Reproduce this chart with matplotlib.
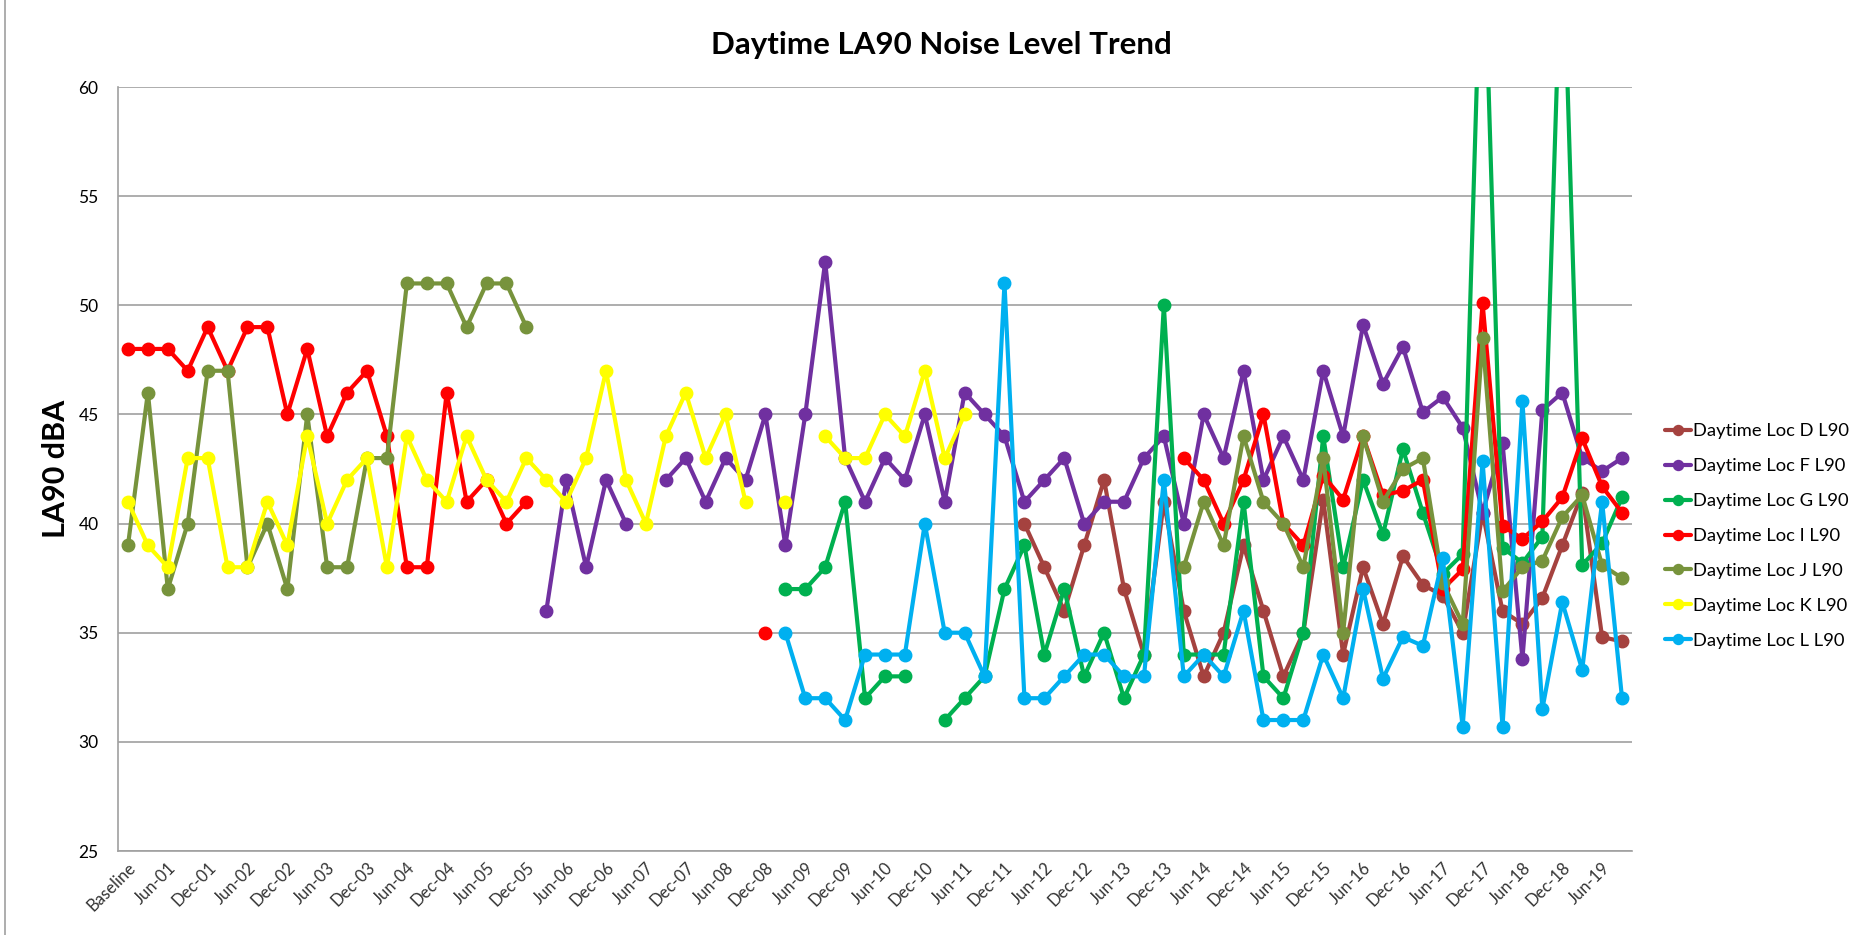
import numpy as np
import matplotlib
matplotlib.use("Agg")
import matplotlib.pyplot as plt
from matplotlib.lines import Line2D

plt.rcParams["font.family"] = ["Lato", "DejaVu Sans"]

nan = np.nan

# quarterly survey periods: Baseline, Mar-01 ... Sep-19
months = ["Mar", "Jun", "Sep", "Dec"]
categories = ["Baseline"] + [f"{m}-{y:02d}" for y in range(1, 20) for m in months][:75]

loc_d = [nan] * 45 + [40, 38, 36, 39, 42, 37, 34, 41, 36, 33, 35, 39, 36, 33, 35,
                      41.1, 34, 38, 35.4, 38.5, 37.2, 36.7, 35, 40.5, 36.0, 35.4, 36.6,
                      39.0, 41.4, 34.8, 34.6]
loc_f = [nan] * 21 + [36, 42, 38, 42, 40, nan, 42, 43, 41, 43, 42, 45, 39, 45, 52, 43,
                      41, 43, 42, 45, 41, 46, 45, 44, 41, 42, 43, 40, 41, 41, 43, 44, 40,
                      45, 43, 47, 42, 44, 42, 47, 44, 49.1, 46.4, 48.1, 45.1, 45.8, 44.4,
                      40.5, 43.7, 33.8, 45.2, 46.0, 43.0, 42.4, 43.0]
loc_g = [nan] * 33 + [37, 37, 38, 41, 32, 33, 33, nan, 31, 32, 33, 37, 39, 34, 37, 33,
                      35, 32, 34, 50, 34, 34, 34, 41, 33, 32, 35, 44, 38, 42, 39.5, 43.4,
                      40.5, 37.7, 38.6, 69, 38.9, 38.2, 39.4, 68, 38.1, 39.1, 41.2]
loc_i = [48, 48, 48, 47, 49, 47, 49, 49, 45, 48, 44, 46, 47, 44, 38, 38, 46, 41, 42, 40,
         41] + [nan] * 11 + [35] + [nan] * 20 + [43, 42, 40, 42, 45, 40, 39, 42.2, 41.1,
         44, 41.3, 41.5, 42, 37.0, 37.9, 50.1, 39.9, 39.3, 40.1, 41.2, 43.9, 41.7, 40.5]
loc_j = [39, 46, 37, 40, 47, 47, 38, 40, 37, 45, 38, 38, 43, 43, 51, 51, 51, 49, 51, 51,
         49] + [nan] * 32 + [38, 41, 39, 44, 41, 40, 38, 43, 35, 44, 41, 42.5, 43, 37.3,
         35.4, 48.5, 36.9, 38.0, 38.3, 40.3, 41.3, 38.1, 37.5]
loc_k = [41, 39, 38, 43, 43, 38, 38, 41, 39, 44, 40, 42, 43, 38, 44, 42, 41, 44, 42, 41,
         43, 42, 41, 43, 47, 42, 40, 44, 46, 43, 45, 41, nan, 41, nan, 44, 43, 43, 45, 44,
         47, 43, 45] + [nan] * 33
loc_l = [nan] * 33 + [35, 32, 32, 31, 34, 34, 34, 40, 35, 35, 33, 51, 32, 32, 33, 34,
                      34, 33, 33, 42, 33, 34, 33, 36, 31, 31, 31, 34, 32, 37, 32.9, 34.8,
                      34.4, 38.4, 30.7, 42.85, 30.7, 45.6, 31.5, 36.4, 33.3, 41.0, 32.0]

series_names = ["Daytime Loc D L90", "Daytime Loc F L90", "Daytime Loc G L90",
                "Daytime Loc I L90", "Daytime Loc J L90", "Daytime Loc K L90",
                "Daytime Loc L L90"]
series_vals = [loc_d, loc_f, loc_g, loc_i, loc_j, loc_k, loc_l]
colors = ["#A5423F", "#7030A0", "#00B050", "#FF0000", "#77933C", "#FFFF00", "#00B0F0"]

fig = plt.figure(figsize=(18.56, 9.35), dpi=100)
ax = fig.add_axes([118 / 1856, 1 - 851 / 935, (1632 - 118) / 1856, (851 - 87) / 935])

x = np.arange(len(categories))
for name, vals, c in zip(series_names, series_vals, colors):
    ax.plot(x, vals, color=c, lw=3, marker="o", ms=9, label=name,
            solid_capstyle="round", solid_joinstyle="round")

ax.set_xlim(-0.5, len(categories) - 0.5)
ax.set_ylim(25, 60)
ax.set_yticks(range(25, 61, 5))
ax.set_xticks(x[::2])
ax.set_xticklabels(categories[::2], rotation=45, ha="right", rotation_mode="anchor",
                   fontsize=12, color="#333333")
ax.tick_params(axis="y", length=0, labelsize=12.5, pad=14)
ax.tick_params(axis="x", length=0, pad=6)
ax.grid(axis="y", color="#a0a0a0", lw=1.2)
ax.set_axisbelow(True)
for s in ["top", "right"]:
    ax.spines[s].set_visible(False)
ax.spines["left"].set_color("#a0a0a0")
ax.spines["bottom"].set_color("#a0a0a0")
ax.spines["left"].set_linewidth(1.2)
ax.spines["bottom"].set_linewidth(1.2)

ax.set_ylabel("LA90 dBA", fontsize=22, fontweight="bold", labelpad=6)
fig.text(941 / 1856, 1 - 45 / 935, "Daytime LA90 Noise Level Trend", fontsize=22.5,
         fontweight="bold", ha="center", va="center")

fig.legend(loc="upper left", bbox_to_anchor=(1658 / 1856, 1 - 416 / 935), frameon=False,
           fontsize=13.2, handlelength=1.4, labelspacing=1.03, handletextpad=0.1,
           borderaxespad=0, markerscale=0.8)

# chart border on the left edge
fig.add_artist(Line2D([5 / 1856, 5 / 1856], [0, 1], color="#a0a0a0", lw=1.2))

fig.savefig("out.png", dpi=100)
